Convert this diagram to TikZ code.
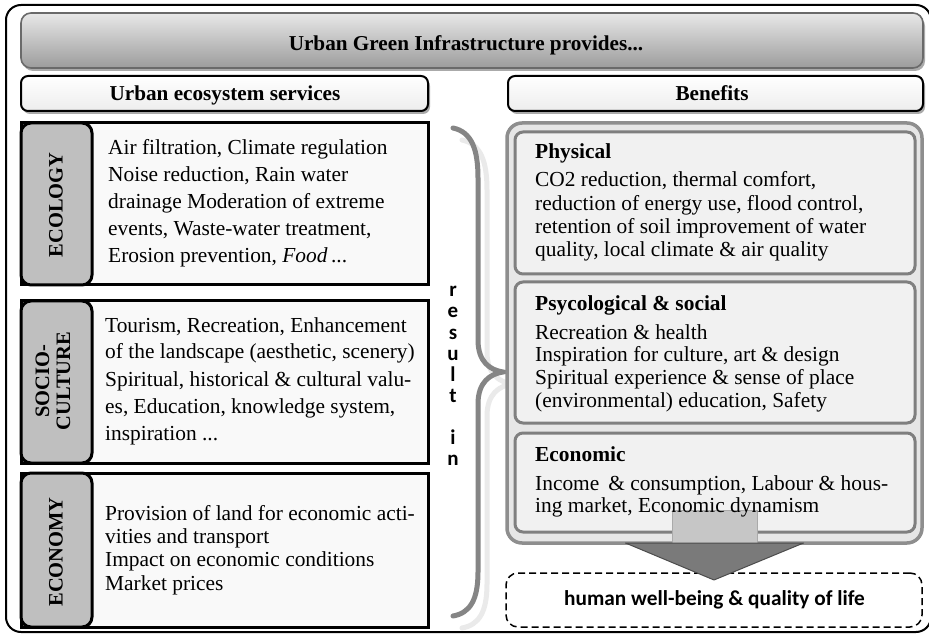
\documentclass[tikz,border=0pt]{standalone}
\usepackage{fontspec}
\setmainfont{Liberation Serif}
\newfontfamily\calfont{Carlito}
\definecolor{tabgray}{HTML}{BFBFBF}
\definecolor{boxfill}{HTML}{F9F9F9}
\definecolor{benfill}{HTML}{E6E6E6}
\definecolor{innerfill}{HTML}{F1F1F1}
\definecolor{bordgray}{HTML}{7F7F7F}
\definecolor{outgray}{HTML}{8E8E8E}
\definecolor{bracegray}{HTML}{858585}
\definecolor{braceshadow}{HTML}{EAEAEA}
\definecolor{titletop}{HTML}{E8E8E8}
\definecolor{titlebot}{HTML}{9C9C9C}
\definecolor{titlebord}{HTML}{6A6A6A}
\definecolor{shadowgray}{HTML}{AAAAAA}
\definecolor{hdrbot}{HTML}{EDEDED}
\definecolor{shaftgray}{HTML}{C6C6C6}
\definecolor{headgray}{HTML}{7A7A7A}
\begin{document}
\begin{tikzpicture}[x=1pt,y=-1pt,
  box/.style={rectangle, inner sep=0pt, outer sep=0pt},
  bodytext/.style={font=\fontsize{21.4}{27}\selectfont, anchor=base west, inner sep=0pt},
  headtext/.style={font=\bfseries\fontsize{21.4}{27}\selectfont, anchor=base west, inner sep=0pt},
  captext/.style={font=\bfseries\fontsize{21.2}{26}\selectfont, anchor=base, inner sep=0pt},
  tablabel/.style={font=\bfseries\fontsize{20.5}{21}\selectfont, rotate=90, align=center, inner sep=0pt},
  tabbox/.style={box, draw=black, line width=3pt, fill=tabgray, rounded corners=10pt, minimum width=71pt},
  textbox/.style={box, draw=black, line width=3pt, fill=boxfill, minimum width=407pt},
  innerbox/.style={box, draw=bordgray, line width=3pt, fill=innerfill, rounded corners=8pt, minimum width=400pt},
  restext/.style={font=\calfont\bfseries\fontsize{21}{21}\selectfont, anchor=base, inner sep=0pt},
]
\useasboundingbox (0,0) rectangle (929,636);
\fill[white] (0,0) rectangle (929,636);

% outer frame
\draw[line width=2pt, rounded corners=15pt] (6,5) rectangle (931,632);

% title bar
\fill[shadowgray, rounded corners=10pt] (23,16) rectangle (925,71);
\node[box, top color=titletop, bottom color=titlebot, draw=titlebord, line width=1.6pt,
      rounded corners=10pt, minimum width=902pt, minimum height=55pt] (title) at (472,40.5) {};
\node[captext] (titletxt) at (466,51) {Urban Green Infrastructure provides...};

% headers
\fill[shadowgray, rounded corners=7pt] (23,79) rectangle (430,114);
\fill[shadowgray, rounded corners=7pt] (510,79) rectangle (925,114);
\node[box, top color=white, bottom color=hdrbot, draw=black, line width=2pt, rounded corners=7pt,
      minimum width=407pt, minimum height=35pt] (hdrL) at (224.5,93.5) {};
\node[box, top color=white, bottom color=hdrbot, draw=black, line width=2pt, rounded corners=7pt,
      minimum width=415pt, minimum height=35pt] (hdrR) at (715.5,93.5) {};
\node[captext] (hdrLtxt) at (225,100.5) {Urban ecosystem services};
\node[captext] (hdrRtxt) at (712,100.5) {Benefits};

% left service boxes
\node[textbox, minimum height=162pt] (eco) at (224.5,204) {};
\node[tabbox, minimum height=162pt] (ecotab) at (56.5,204) {};
\node[tablabel] (ecolab) at (56,205) {ECOLOGY};

\node[textbox, minimum height=162pt] (soc) at (224.5,382) {};
\node[tabbox, minimum height=162pt] (soctab) at (56.5,382) {};
\node[tablabel] (soclab) at (53,381) {SOCIO-\\CULTURE};

\node[textbox, minimum height=154pt] (ecn) at (224.5,550) {};
\node[tabbox, minimum height=154pt] (ecntab) at (56.5,550) {};
\node[tablabel] (ecnlab) at (56,552) {ECONOMY};

\node[bodytext] (ecot1) at (108,155) {Air filtration, Climate regulation};
\node[bodytext] (ecot2) at (108,182) {Noise reduction, Rain water};
\node[bodytext] (ecot3) at (108,209) {drainage Moderation of extreme};
\node[bodytext] (ecot4) at (108,236) {events, Waste-water treatment,};
\node[bodytext] (ecot5) at (108,263) {Erosion prevention, \textit{Food}\,...};

\node[bodytext] (soct1) at (105,332) {Tourism, Recreation, Enhancement};
\node[bodytext] (soct2) at (105,359) {of the landscape (aesthetic, scenery)};
\node[bodytext] (soct3) at (105,386) {Spiritual, historical \& cultural valu-};
\node[bodytext] (soct4) at (105,413) {es, Education, knowledge system,};
\node[bodytext] (soct5) at (105,440) {inspiration ...};

\node[bodytext] (ecnt1) at (105,520) {Provision of land for economic acti-};
\node[bodytext] (ecnt2) at (105,543.3) {vities and transport};
\node[bodytext] (ecnt3) at (105,566.6) {Impact on economic conditions};
\node[bodytext] (ecnt4) at (105,590) {Market prices};

% brace
\draw[braceshadow, line width=5pt, line cap=round, shift={(9,12)}]
  (453,128) .. controls (472,132) and (478,150) .. (478,178) -- (478,340)
  .. controls (478,362) and (490,370) .. (503,372)
  .. controls (490,374) and (478,382) .. (478,404) -- (478,572)
  .. controls (478,600) and (470,613) .. (453,616);
\draw[bracegray, line width=5pt, line cap=round]
  (453,128) .. controls (472,132) and (478,150) .. (478,178) -- (478,340)
  .. controls (478,362) and (490,370) .. (503,372)
  .. controls (490,374) and (478,382) .. (478,404) -- (478,572)
  .. controls (478,600) and (470,613) .. (453,616);
\foreach \ch/\yy [count=\i] in {r/297,e/318,s/339,u/360,l/381,t/402,i/444,n/465}
  \node[restext] (res\i) at (453,\yy) {\ch};

% benefits
\node[box, draw=outgray, line width=3.5pt, fill=benfill, rounded corners=15pt,
      minimum width=415pt, minimum height=420pt] (ben) at (714.5,333) {};
\node[innerbox, minimum height=142pt] (phys) at (715,203) {};
\node[innerbox, minimum height=141pt] (psy) at (715,352.5) {};
\node[innerbox, minimum height=99pt] (econ) at (715,482.5) {};

% arrow shaft (behind text)
\fill[shaftgray, draw=shadowgray, line width=0.8pt]
  ([xshift=-42pt,yshift=33pt]ben.south) rectangle ([xshift=43pt]ben.south);

\node[headtext] (physh) at (535,159) {Physical};
\node[bodytext] (physt1) at (535,187) {CO2 reduction, thermal comfort,};
\node[bodytext] (physt2) at (535,210.3) {reduction of energy use, flood control,};
\node[bodytext] (physt3) at (535,233.6) {retention of soil improvement of water};
\node[bodytext] (physt4) at (535,257) {quality, local climate \& air quality};

\node[headtext] (psyh) at (535,311) {Psycological \& social};
\node[bodytext] (psyt1) at (535,339) {Recreation \& health};
\node[bodytext] (psyt2) at (535,361.8) {Inspiration for culture, art \& design};
\node[bodytext] (psyt3) at (535,384.6) {Spiritual experience \& sense of place};
\node[bodytext] (psyt4) at (535,407.4) {(environmental) education, Safety};

\node[headtext] (econh) at (535,461) {Economic};
\node[bodytext] (econt1) at (535,490) {Income\, \& consumption, Labour \& hous-};
\node[bodytext] (econt2) at (535,512.5) {ing market, Economic dynamism};

% well-being box
\node[box, draw=black, line width=1.5pt, dash pattern=on 7pt off 4pt, rounded corners=12pt,
      minimum width=416pt, minimum height=54pt] (well) at (714,600) {};
\node[font=\calfont\bfseries\fontsize{21.3}{26}\selectfont, anchor=base, inner sep=0pt] (welltxt) at (714.5,605) {human well-being \& quality of life};

% arrow head
\fill[headgray, draw=black!70, line width=1pt, line join=round]
  ([xshift=-89pt]ben.south) -- ([xshift=89pt]ben.south) -- ([yshift=-7pt]well.north) -- cycle;
\end{tikzpicture}
\end{document}
